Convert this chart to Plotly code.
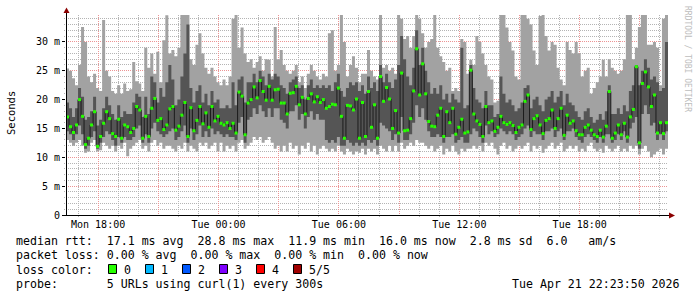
import pandas as pd
import plotly.graph_objects as go

# ---------------- data (milliseconds, one sample every 9 minutes) ----------------
t_start = "2026-04-20 16:24:00"
step_min = 9
x_range = ["2026-04-20 16:24:00", "2026-04-21 22:24:00"]

median_ms = [
    17.0, 15.3, 14.3, 15.6, 20.0, 17.1, 12.2, 13.3, 15.6, 17.9, 11.9, 13.6, 15.9, 17.9, 16.7, 14.1, 13.6, 16.6, 13.3, 15.6,
    15.3, 14.3, 15.0, 18.8, 18.2, 13.3, 17.1, 13.6, 18.5, 20.2, 16.4, 16.7, 14.8, 15.6,
    18.4, 18.8, 14.7, 15.4, 17.3, 19.5, 13.6, 18.6, 14.6, 16.4, 18.8, 15.8, 17.7, 15.2, 18.8, 16.3, 17.1, 15.9, 15.6, 16.0,
    15.0, 15.9, 14.2, 21.3, 20.6, 13.9, 19.4, 20.0, 22.2, 20.3, 23.3, 21.4, 19.9, 22.3,
    19.9, 21.7, 21.8, 19.4, 19.4, 17.5, 21.1, 21.2, 22.3, 19.1, 20.4, 17.5, 20.2, 21.0, 19.6, 20.5, 19.5, 20.0, 18.5, 18.8,
    19.2, 19.1, 22.0, 17.1, 13.3, 19.0, 18.9, 18.2, 20.1, 13.3, 19.5, 13.6, 21.4,
    15.2, 19.1, 13.3, 24.0, 19.7, 22.1, 20.1, 15.0, 18.1, 14.2, 24.6, 14.6, 14.7, 16.7, 21.5, 28.8, 20.8, 26.2, 21.0, 16.2,
    15.4, 15.3, 17.3, 18.5, 13.6, 17.9, 16.0, 18.5, 14.0, 15.2, 16.6, 14.2, 14.4,
    25.1, 17.5, 16.3, 15.7, 13.6, 18.8, 16.0, 16.3, 14.5, 15.2, 17.1, 16.0, 15.7, 16.0, 15.5, 14.3, 15.2, 15.6, 19.7, 20.8,
    14.8, 16.7, 17.2, 15.6, 14.1, 16.4, 16.7, 18.2, 15.0, 16.7, 18.5, 13.8, 17.3,
    15.9, 16.3, 14.6, 13.9, 13.9, 15.2, 15.6, 14.7, 13.9, 13.6, 14.7, 13.5, 15.4, 21.4, 13.3, 14.2, 15.6, 13.9, 15.9, 13.5,
    17.0, 18.3, 25.7, 12.5, 22.8, 24.8, 22.2, 18.8, 20.8, 14.2, 16.0, 14.1, 16.0,
]

ping_min_ms = [
    13.0, 12.5, 12.0, 12.5, 13.0, 12.0, 10.8, 11.0, 12.5, 13.0, 11.0, 11.2, 12.5, 12.0, 11.5, 12.0, 11.0, 12.0, 11.5, 12.5,
    10.2, 11.5, 12.0, 12.5, 13.0, 11.5, 12.0, 11.0, 12.5, 13.0, 12.0, 12.5, 11.5, 12.0,
    12.0, 11.5, 11.0, 12.0, 11.5, 12.5, 11.0, 12.0, 11.5, 11.0, 12.5, 12.0, 12.5, 11.5, 12.0, 12.5, 11.0, 12.5, 11.0, 12.0,
    11.5, 12.0, 11.0, 12.5, 13.0, 11.5, 12.0, 12.5, 13.5, 13.0, 13.5, 12.5, 13.0, 13.5,
    12.5, 11.5, 12.0, 11.0, 12.0, 11.0, 12.5, 11.5, 12.0, 10.5, 12.0, 11.5, 12.5, 11.0, 12.0, 10.5, 11.5, 12.0, 11.5, 11.0,
    11.5, 11.0, 12.0, 11.0, 10.5, 11.5, 11.0, 10.5, 11.0, 10.8, 11.5, 10.5, 11.5,
    11.0, 11.5, 10.5, 12.0, 11.5, 11.0, 12.0, 11.0, 12.0, 11.0, 12.5, 11.5, 12.0, 12.5, 12.0, 13.0, 12.5, 12.5, 12.0, 11.5,
    12.0, 11.0, 11.5, 12.0, 10.5, 11.5, 11.0, 12.0, 11.0, 10.5, 11.5, 11.0, 11.5,
    11.5, 12.0, 11.5, 12.0, 11.0, 12.5, 12.0, 12.5, 11.5, 10.5, 12.0, 12.5, 11.5, 12.0, 11.0, 11.5, 12.0, 11.5, 12.0, 12.5,
    11.0, 12.0, 11.5, 12.0, 10.8, 11.5, 12.0, 12.5, 11.5, 12.0, 12.5, 11.0, 11.5,
    12.0, 11.5, 12.0, 11.0, 11.5, 11.0, 12.0, 12.5, 11.5, 11.0, 11.5, 10.8, 12.0, 11.5, 11.0, 11.5, 12.0, 11.0, 11.5, 11.0,
    12.0, 11.5, 12.0, 10.5, 11.5, 12.0, 11.0, 10.0, 10.5, 11.0, 11.5, 10.5, 11.5,
]

ping_low_ms = [
    14.5, 14.0, 13.0, 14.0, 15.5, 14.0, 11.5, 12.0, 13.5, 14.5, 11.5, 12.5, 13.5, 14.5, 14.0, 13.0, 12.0, 13.5, 12.5, 13.5,
    13.0, 13.0, 13.5, 15.0, 15.5, 12.5, 14.0, 12.5, 15.0, 16.0, 14.5, 14.0, 13.5, 14.0,
    14.5, 15.0, 13.0, 13.5, 14.5, 15.5, 12.5, 15.0, 13.0, 14.0, 15.5, 13.5, 14.5, 13.5, 15.0, 14.0, 14.5, 14.0, 13.5, 14.0,
    13.5, 13.5, 13.0, 16.0, 17.0, 12.5, 16.5, 17.0, 18.5, 17.5, 19.0, 18.0, 17.0, 18.5,
    17.0, 18.5, 18.5, 16.5, 16.0, 15.0, 18.0, 18.0, 19.0, 16.5, 17.5, 15.0, 17.0, 18.0, 16.5, 17.5, 16.5, 16.5, 13.0, 12.5,
    13.0, 12.5, 13.5, 12.0, 12.0, 13.0, 12.5, 12.0, 12.5, 12.0, 12.5, 12.0, 13.0,
    12.5, 13.0, 12.0, 16.0, 15.5, 15.0, 14.5, 13.0, 14.0, 12.5, 17.0, 13.0, 13.0, 14.0, 16.0, 19.0, 17.0, 18.5, 16.5, 14.5,
    13.5, 13.5, 14.0, 13.5, 12.5, 13.5, 13.5, 14.0, 12.5, 13.0, 13.5, 12.5, 12.5,
    14.0, 15.0, 14.5, 13.5, 12.5, 15.5, 14.0, 14.5, 13.5, 14.0, 15.0, 14.5, 14.0, 14.5, 14.0, 13.0, 13.5, 14.0, 15.0, 15.5,
    13.5, 14.5, 14.0, 14.0, 13.0, 14.5, 14.5, 15.0, 13.5, 14.5, 15.0, 13.0, 14.5,
    14.5, 15.0, 13.5, 13.0, 12.5, 13.5, 14.0, 13.5, 13.0, 12.5, 13.5, 12.5, 14.0, 14.0, 12.5, 13.0, 14.0, 13.0, 14.5, 12.5,
    15.0, 16.0, 17.0, 11.5, 17.5, 19.0, 17.5, 15.5, 16.0, 13.0, 14.0, 13.0, 14.5,
]

ping_high_ms = [
    19.5, 18.5, 17.0, 18.5, 22.0, 20.5, 16.5, 17.0, 18.0, 20.5, 15.5, 16.5, 18.5, 20.5, 19.0, 17.5, 16.5, 19.0, 17.0, 18.0,
    17.5, 17.5, 19.5, 21.0, 20.5, 17.0, 20.5, 17.5, 24.0, 23.0, 19.5, 22.0, 20.5, 23.0,
    26.0, 23.5, 19.0, 20.0, 24.0, 28.0, 33.0, 22.0, 19.5, 21.5, 22.5, 19.5, 21.0, 19.0, 21.5, 19.5, 20.0, 18.5, 18.5, 19.0,
    18.5, 23.0, 19.0, 23.5, 24.0, 19.5, 23.0, 23.0, 24.5, 23.0, 25.0, 24.0, 22.5, 24.5,
    23.5, 24.5, 24.0, 22.5, 22.0, 21.0, 23.0, 23.5, 24.0, 22.0, 22.5, 20.0, 22.5, 23.5, 22.0, 22.5, 22.0, 22.5, 22.0, 22.5,
    21.5, 23.0, 24.5, 21.5, 20.5, 22.0, 23.0, 22.5, 23.0, 21.5, 22.5, 21.0, 24.0,
    22.0, 23.0, 21.5, 26.0, 23.0, 24.5, 23.0, 22.0, 23.5, 26.0, 31.0, 27.0, 24.0, 22.5, 25.5, 32.0, 26.0, 29.0, 25.0, 23.0,
    21.0, 22.0, 21.0, 22.5, 20.0, 21.0, 19.5, 21.0, 20.0, 19.5, 29.0, 18.5, 19.0,
    26.0, 22.0, 20.0, 19.5, 18.5, 21.5, 19.0, 19.0, 17.0, 17.5, 24.0, 21.0, 19.5, 20.0, 19.0, 18.0, 18.5, 19.5, 22.0, 22.5,
    18.5, 20.0, 20.5, 19.0, 18.0, 20.0, 20.5, 21.5, 19.5, 20.5, 21.5, 19.0, 21.0,
    19.5, 19.0, 18.0, 17.0, 16.5, 18.0, 18.5, 17.0, 16.0, 16.5, 17.5, 16.5, 18.0, 22.5, 17.5, 17.5, 18.5, 17.5, 19.0, 18.0,
    21.5, 22.5, 26.0, 22.5, 25.0, 27.0, 25.5, 23.5, 24.0, 23.0, 21.5, 22.0, 30.0,
]

ping_max_ms = [
    25.4, 25.0, 23.7, 22.5, 26.0, 32.6, 30.0, 24.0, 23.0, 24.5, 22.0, 21.5, 33.8, 25.0, 24.0, 21.5, 21.0, 22.5, 21.0, 22.8,
    21.5, 21.8, 26.5, 23.2, 22.8, 21.5, 29.0, 25.5, 28.0, 24.5, 28.3, 23.0, 30.3, 34.6,
    28.0, 28.6, 27.5, 29.0, 35.0, 35.0, 35.0, 27.0, 26.0, 29.5, 31.5, 28.0, 25.5, 24.5, 25.5, 24.0, 23.0, 22.5, 23.5, 22.5,
    24.0, 34.0, 35.0, 29.0, 32.5, 28.0, 26.5, 27.0, 25.5, 26.5, 27.5, 25.0, 27.0, 26.9,
    24.0, 32.6, 27.0, 28.6, 26.0, 25.0, 24.5, 25.0, 26.0, 23.0, 24.0, 22.0, 24.5, 26.0, 25.0, 24.0, 23.5, 24.5, 24.0, 31.5,
    32.0, 25.0, 26.0, 35.0, 30.0, 24.0, 26.0, 27.5, 25.5, 23.0, 24.5, 24.5, 28.6,
    25.0, 24.0, 23.5, 35.0, 25.5, 26.0, 25.0, 25.5, 24.5, 35.0, 34.0, 30.5, 31.0, 29.0, 31.0, 35.0, 34.0, 31.5, 29.0, 30.0,
    30.5, 35.0, 29.0, 27.5, 26.5, 25.0, 25.5, 21.5, 22.0, 21.5, 30.5, 30.0, 24.5,
    26.9, 26.0, 31.0, 30.0, 28.0, 26.0, 24.0, 23.5, 19.5, 19.8, 35.0, 35.0, 32.5, 30.0, 28.5, 24.0, 23.5, 35.0, 35.0, 34.0,
    33.0, 28.5, 26.0, 34.5, 35.0, 31.0, 28.5, 30.0, 29.5, 25.5, 23.5, 22.5, 30.0,
    28.6, 28.0, 30.0, 28.0, 24.0, 25.0, 25.5, 21.0, 22.0, 23.0, 24.0, 26.9, 24.0, 27.0, 25.5, 25.0, 24.5, 25.0, 27.0, 35.0,
    35.0, 27.0, 29.0, 32.6, 35.0, 35.0, 29.5, 29.5, 30.0, 29.0, 22.5, 34.0, 35.0,
]

# y ticks: major every 5 ms, minor every 1 ms
y_major_dtick = 5
y_minor_dtick = 1
y_label_alias = {"0 m": "0"}
y_max = 34.66

# x ticks: major grid every 3 h (labels on every 6 h), minor every hour
x_tick0 = "2026-04-20 18:00"
x_major_dtick_h = 3
x_minor_dtick_h = 1
x_label_alias = {"Mon 21:00": " ", "Tue 03:00": " ", "Tue 09:00": " ", "Tue 15:00": " ", "Tue 21:00": " "}

loss_labels = ["0", "1", "2", "3", "4", "5/5"]
loss_colors = ["#26ff00", "#00b8ff", "#0059ff", "#7e00ff", "#ff0000", "#a00000"]

line_rtt = "median rtt:  17.1 ms avg  28.8 ms max  11.9 ms min  16.0 ms now  2.8 ms sd  6.0   am/s"
line_loss = "packet loss: 0.00 % avg  0.00 % max  0.00 % min  0.00 % now"
line_color = "loss color:"
line_probe = "probe:       5 URLs using curl(1) every 300s"
stamp = "Tue Apr 21 22:23:50 2026"

# ---------------- geometry helpers ----------------
W, H = 697, 297
L, R, T, B = 66, 29, 15, 82
PW, PH = W - L - R, H - T - B
HOUR_MS = 3600000


def px_x(px):
    return (px - L) / PW


def px_y(py):
    return (H - B - py) / PH


def nb(s):
    return s.replace(" ", "\u00a0")


n = len(median_ms)
step = pd.Timedelta(minutes=step_min)
edges = pd.date_range(t_start, periods=n + 1, freq=f"{step_min}min")
centers = edges[:-1] + step / 2


def stepped(vals):
    return list(vals) + [vals[-1]]


LIGHT = "#a2a2a2"
DARK = "#555555"

fig = go.Figure()
fig.add_trace(go.Scatter(x=edges, y=stepped(ping_min_ms), mode="lines", line=dict(width=0, shape="hv"),
                         hoverinfo="skip"))
fig.add_trace(go.Scatter(x=edges, y=stepped(ping_max_ms), mode="lines", line=dict(width=0, shape="hv"),
                         fill="tonexty", fillcolor=LIGHT, hoverinfo="skip"))
fig.add_trace(go.Scatter(x=edges, y=stepped(ping_low_ms), mode="lines", line=dict(width=0, shape="hv"),
                         hoverinfo="skip"))
fig.add_trace(go.Scatter(x=edges, y=stepped(ping_high_ms), mode="lines", line=dict(width=0, shape="hv"),
                         fill="tonexty", fillcolor=DARK, hoverinfo="skip"))
fig.add_trace(go.Scatter(x=edges, y=stepped(median_ms), mode="lines",
                         line=dict(width=1, shape="hv", color="#1c1c1c"), hoverinfo="skip"))
fig.add_trace(go.Scatter(x=centers, y=median_ms, mode="markers",
                         marker=dict(symbol="square", size=3, color=loss_colors[0], line=dict(width=0)),
                         hoverinfo="skip"))

axis_font = dict(family="DejaVu Sans Mono", size=10, color="#000000")
grid_dash = "1px,1px"
major_grid = "#ec9494"
minor_grid = "#b4b4b4"

fig.update_layout(
    width=W, height=H, margin=dict(l=L, r=R, t=T, b=B),
    paper_bgcolor="white", plot_bgcolor="white", showlegend=False,
    xaxis=dict(type="date", range=x_range, tickmode="linear", tick0=x_tick0, dtick=x_major_dtick_h * HOUR_MS,
               tickformat="%a %H:%M", labelalias=x_label_alias,
               showgrid=True, gridcolor=major_grid, griddash=grid_dash, gridwidth=1,
               ticks="", showline=False, zeroline=False, tickfont=axis_font, ticklabelstandoff=2,
               minor=dict(tick0=x_tick0, dtick=x_minor_dtick_h * HOUR_MS, showgrid=True, gridcolor=minor_grid,
                          griddash=grid_dash, gridwidth=1, ticks="outside", ticklen=1, tickcolor=minor_grid)),
    yaxis=dict(range=[0, y_max], tickmode="linear", tick0=0, dtick=y_major_dtick, ticksuffix=" m",
               labelalias=y_label_alias,
               showgrid=True, gridcolor=major_grid, griddash=grid_dash, gridwidth=1,
               ticks="outside", ticklen=3, tickcolor="#000000", tickwidth=1,
               showline=False, zeroline=False, tickfont=axis_font,
               minor=dict(tick0=0, dtick=y_minor_dtick, showgrid=True, gridcolor=minor_grid,
                          griddash=grid_dash, gridwidth=1, ticks="outside", ticklen=1, tickcolor=minor_grid)),
)

shapes = []
shapes.append(dict(type="line", xref="paper", yref="paper", x0=px_x(66.5), x1=px_x(66.5), y0=px_y(215), y1=px_y(10),
                   line=dict(color="#000000", width=1)))
shapes.append(dict(type="line", xref="paper", yref="paper", x0=px_x(63), x1=px_x(670), y0=px_y(215.5), y1=px_y(215.5),
                   line=dict(color="#000000", width=1)))
shapes.append(dict(type="path", xref="paper", yref="paper",
                   path=f"M {px_x(63.5)},{px_y(13)} L {px_x(69.5)},{px_y(13)} L {px_x(66.5)},{px_y(7.5)} Z",
                   fillcolor="#8b0000", line=dict(width=0)))
shapes.append(dict(type="path", xref="paper", yref="paper",
                   path=f"M {px_x(669)},{px_y(212.5)} L {px_x(669)},{px_y(218.5)} L {px_x(675)},{px_y(215.5)} Z",
                   fillcolor="#8b0000", line=dict(width=0)))
for k, c in enumerate(loss_colors):
    x0 = 108.5 + 37 * k
    shapes.append(dict(type="rect", xref="paper", yref="paper", x0=px_x(x0), x1=px_x(x0 + 8),
                       y0=px_y(273.5), y1=px_y(264.5), fillcolor=c, line=dict(color="#000000", width=1)))
fig.update_layout(shapes=shapes)

text_font = dict(family="DejaVu Sans Mono", size=11.6, color="#000000")
ann = []


def add_text(txt, px, py, xanchor="left", font=text_font, angle=0):
    ann.append(dict(text=nb(txt), xref="paper", yref="paper", x=px_x(px), y=px_y(py), xanchor=xanchor,
                    yanchor="middle", showarrow=False, font=font, textangle=angle, borderpad=0))


add_text(line_rtt, 15, 240.5)
add_text(line_loss, 15, 255)
add_text(line_color, 15, 269.5)
for k, lab in enumerate(loss_labels):
    add_text(lab, 108.5 + 37 * k + 14, 269.5)
add_text(line_probe, 15, 284)
add_text(stamp, 681, 284, xanchor="right")
ann.append(dict(text="Seconds", xref="paper", yref="paper", x=px_x(11), y=px_y(113), xanchor="center",
                yanchor="middle", showarrow=False, textangle=-90,
                font=dict(family="DejaVu Sans Mono", size=10.5, color="#000000")))
ann.append(dict(text=nb("RRDTOOL / TOBI OETIKER"), xref="paper", yref="paper", x=px_x(687), y=px_y(59),
                xanchor="center", yanchor="middle", showarrow=False, textangle=90,
                font=dict(family="DejaVu Sans Mono", size=8, color="#bdbdbd")))
fig.update_layout(annotations=ann)

fig.write_html("out.html")
